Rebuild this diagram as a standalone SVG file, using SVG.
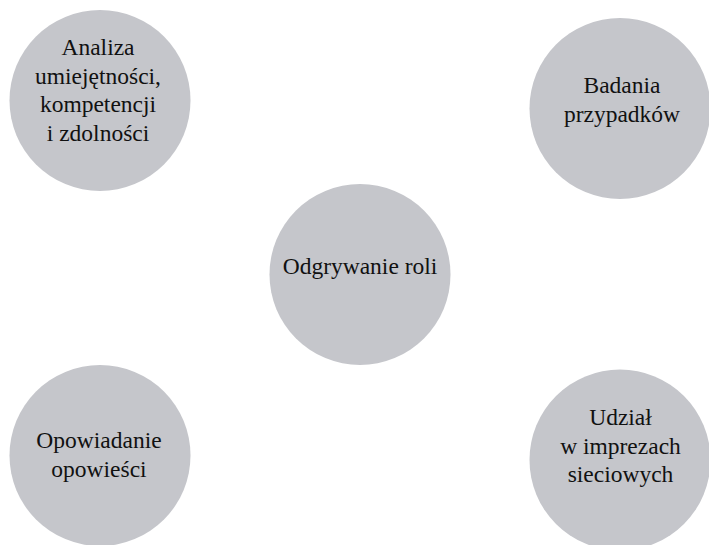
<svg xmlns="http://www.w3.org/2000/svg" width="709" height="545" viewBox="0 0 709 545">
<style>
.node circle{fill:#c5c6cb;}
.node text{font-family:"Liberation Serif","Times New Roman",serif;font-size:23.5px;fill:#111;text-anchor:middle;}
</style>
<rect width="709" height="545" fill="#fff"/>
<g id="connectors"></g>
<g id="n-analiza" class="node">
<circle cx="100" cy="100.5" r="90.5"/>
<text x="98" y="55">Analiza</text>
<text x="98" y="83.5">umiejętności,</text>
<text x="98" y="112">kompetencji</text>
<text x="98" y="140.5">i zdolności</text>
</g>
<g id="n-badania" class="node">
<circle cx="620" cy="108.5" r="90.5"/>
<text x="622" y="93">Badania</text>
<text x="622" y="122">przypadków</text>
</g>
<g id="n-odgrywanie" class="node">
<circle cx="360" cy="274.5" r="90.5"/>
<text x="360" y="274">Odgrywanie roli</text>
</g>
<g id="n-opowiadanie" class="node">
<circle cx="100" cy="455.5" r="90.5"/>
<text x="99" y="448">Opowiadanie</text>
<text x="99" y="477">opowieści</text>
</g>
<g id="n-udzial" class="node">
<circle cx="620" cy="460" r="90.5"/>
<text x="620.5" y="425">Udział</text>
<text x="620.5" y="453.5">w imprezach</text>
<text x="620.5" y="482">sieciowych</text>
</g>
</svg>
